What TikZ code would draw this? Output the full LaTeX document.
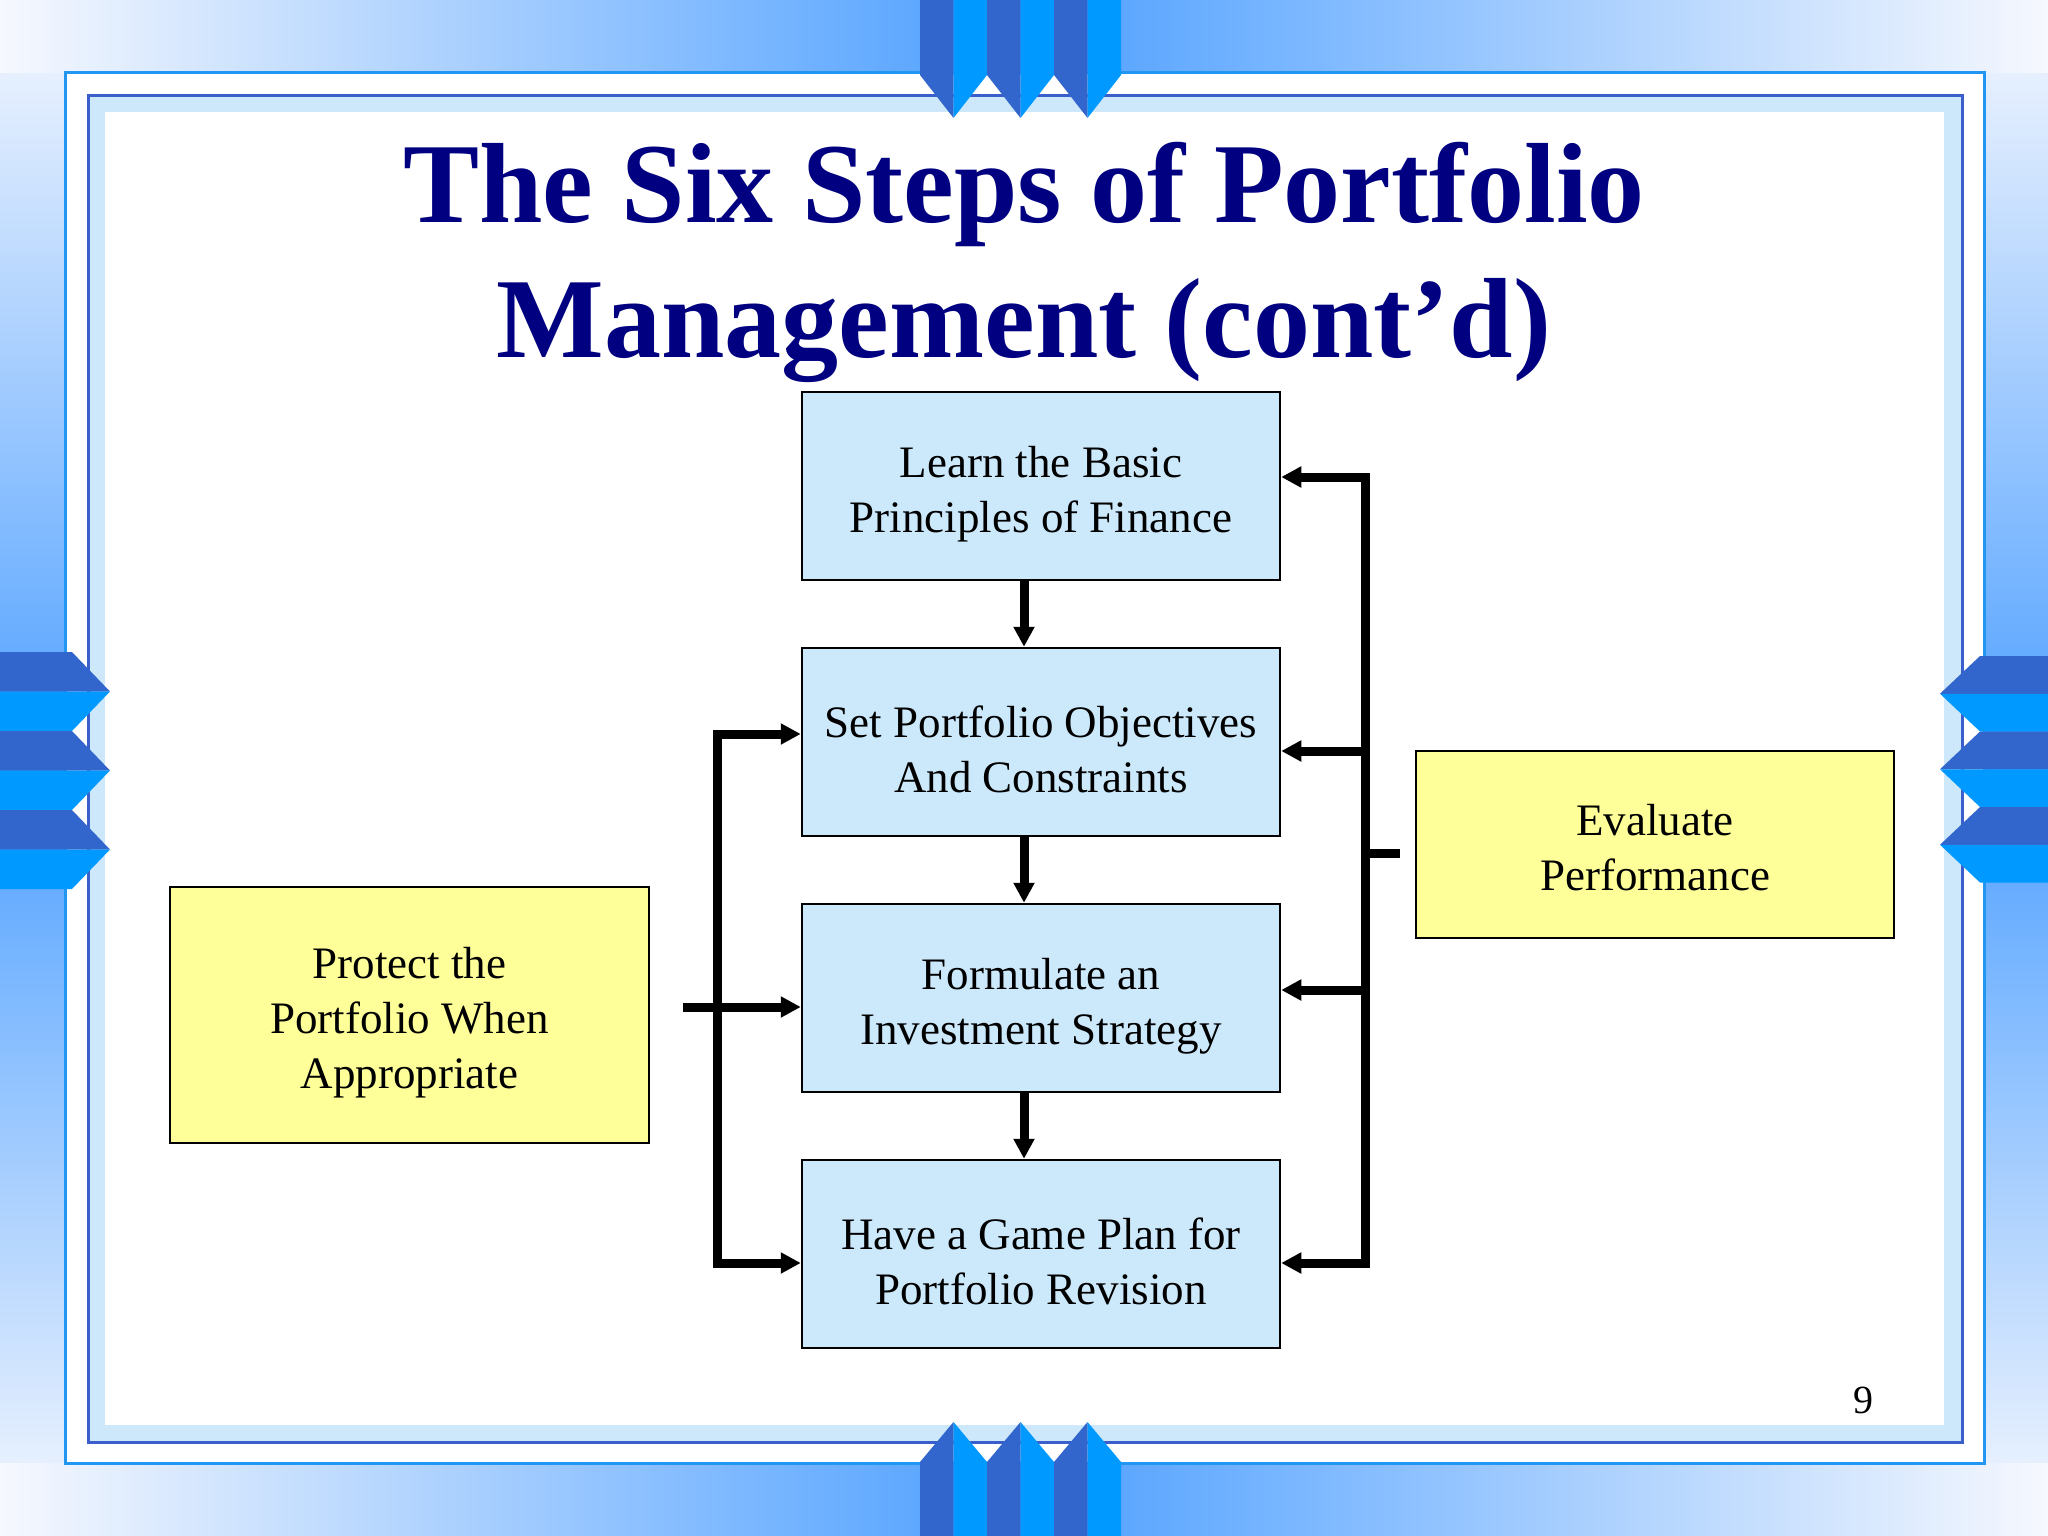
\documentclass[tikz,border=0pt]{standalone}
\usepackage{fontspec}
\setmainfont{Liberation Serif}
\usetikzlibrary{arrows.meta}
\definecolor{bgpale}{HTML}{F6F8FE}
\definecolor{bandblue}{HTML}{4D9FFF}
\definecolor{pdark}{HTML}{3366CC}
\definecolor{pbright}{HTML}{0099FF}
\definecolor{frameout}{HTML}{2196F3}
\definecolor{framedark}{HTML}{3A5FCD}
\definecolor{lightband}{HTML}{CCE8FA}
\definecolor{boxblue}{HTML}{CCE9FB}
\definecolor{boxyellow}{HTML}{FFFF99}
\definecolor{titlenavy}{HTML}{000080}
\newcommand\downstrut[1]{\rule{0pt}{#1}}
\tikzset{
  stepbox/.style={draw=black, line width=2.5pt, fill=boxblue, minimum width=478pt, minimum height=188pt, inner sep=0pt, align=center, font=\fontsize{45}{55}\selectfont},
  sidebox/.style={stepbox, fill=boxyellow},
  conn/.style={line width=9pt, -{Triangle[length=20pt,width=20pt]}},
  busline/.style={line width=9pt, line cap=rect},
  stubline/.style={line width=9pt},
  titletext/.style={font=\fontsize{114}{135}\selectfont\bfseries, text=titlenavy, anchor=base, inner sep=0pt},
}
\begin{document}
\begin{tikzpicture}[x=1pt,y=-1pt]
\useasboundingbox (0,0) rectangle (2048,1536);
% background
\fill[bgpale] (0,0) rectangle (2048,1536);
\shade[top color=bgpale, bottom color=bgpale, middle color=bandblue] (0,0) rectangle (65,1536);
\shade[top color=bgpale, bottom color=bgpale, middle color=bandblue] (1984,0) rectangle (2048,1536);
\shade[left color=bgpale, right color=bgpale, middle color=bandblue] (0,0) rectangle (2048,73);
\shade[left color=bgpale, right color=bgpale, middle color=bandblue] (0,1463) rectangle (2048,1536);
% frame
\fill[white] (65,73) rectangle (1984,1463);
\draw[frameout, line width=3pt] (65,73) rectangle (1984,1463);
\fill[lightband] (88,96) rectangle (1962,1442);
\draw[framedark, line width=3pt] (88,96) rectangle (1962,1442);
\fill[white] (105,112) rectangle (1944,1425);
% pennants top and bottom
\foreach \i in {0,1,2}{
  \pgfmathsetmacro{\xa}{920+67*\i}
  \pgfmathsetmacro{\xm}{\xa+33.5}
  \pgfmathsetmacro{\xb}{\xa+67}
  \fill[pdark] (\xa,0) -- (\xm,0) -- (\xm,118) -- (\xa,75) -- cycle;
  \fill[pbright] (\xm,0) -- (\xb,0) -- (\xb,75) -- (\xm,118) -- cycle;
  \fill[pdark] (\xa,1536) -- (\xm,1536) -- (\xm,1422) -- (\xa,1462) -- cycle;
  \fill[pbright] (\xm,1536) -- (\xb,1536) -- (\xb,1462) -- (\xm,1422) -- cycle;
}
% pennants left
\foreach \j in {0,1,2}{
  \pgfmathsetmacro{\ya}{652+79*\j}
  \pgfmathsetmacro{\ym}{\ya+39.5}
  \pgfmathsetmacro{\yb}{\ya+79}
  \fill[pdark] (0,\ya) -- (72,\ya) -- (110,\ym) -- (0,\ym) -- cycle;
  \fill[pbright] (0,\ym) -- (110,\ym) -- (72,\yb) -- (0,\yb) -- cycle;
}
% pennants right
\foreach \j in {0,1,2}{
  \pgfmathsetmacro{\ya}{656+75.5*\j}
  \pgfmathsetmacro{\ym}{\ya+37.75}
  \pgfmathsetmacro{\yb}{\ya+75.5}
  \fill[pdark] (2048,\ya) -- (1980,\ya) -- (1940,\ym) -- (2048,\ym) -- cycle;
  \fill[pbright] (2048,\ym) -- (1940,\ym) -- (1980,\yb) -- (2048,\yb) -- cycle;
}
% title
\node[titletext] (title1) at (1024,222) {The Six Steps of Portfolio};
\node[titletext] (title2) at (1024,357) {Management (cont’d)};
% boxes
\node[stepbox] (learn) at (1041,486) {\downstrut{47pt}Learn the Basic\\Principles of Finance};
\node[stepbox] (objectives) at (1041,742) {\downstrut{47pt}Set Portfolio Objectives\\And Constraints};
\node[stepbox] (strategy) at (1041,998) {\downstrut{47pt}Formulate an\\Investment Strategy};
\node[stepbox] (revision) at (1041,1254) {\downstrut{47pt}Have a Game Plan for\\Portfolio Revision};
\node[sidebox, minimum width=479pt, minimum height=256pt] (protect) at (409.5,1015) {\downstrut{47pt}Protect the\\Portfolio When\\Appropriate};
\node[sidebox, minimum height=187pt] (evaluate) at (1655,844.5) {\downstrut{37pt}Evaluate\\Performance};
% down arrows
\coordinate (dx) at (1024,0);
\draw[conn] (dx |- learn.south) -- (dx |- objectives.north);
\draw[conn] (dx |- objectives.south) -- (dx |- strategy.north);
\draw[conn] (dx |- strategy.south) -- (dx |- revision.north);
% right bus
\coordinate (r1) at (1365,477);
\coordinate (r2) at (1365,751);
\coordinate (r3) at (1365,990);
\coordinate (r4) at (1365,1263);
\coordinate (rstub) at (1365,853);
\coordinate (estub) at (1400,853);
\draw[busline] (r1) -- (r4);
\draw[conn] (r1) -- (learn.east |- r1);
\draw[conn] (r2) -- (objectives.east |- r2);
\draw[conn] (r3) -- (strategy.east |- r3);
\draw[conn] (r4) -- (revision.east |- r4);
\draw[stubline] (rstub) -- (estub);
% left bus
\coordinate (l2) at (717,734);
\coordinate (l3) at (717,1007);
\coordinate (l4) at (717,1263);
\coordinate (pstub) at (683,1007);
\draw[busline] (l2) -- (l4);
\draw[conn] (l2) -- (objectives.west |- l2);
\draw[conn] (pstub) -- (strategy.west |- l3);
\draw[conn] (l4) -- (revision.west |- l4);
% page number
\node[font=\fontsize{40}{48}\selectfont, anchor=base, inner sep=0pt] (pagenum) at (1863,1413) {9};
\end{tikzpicture}
\end{document}
